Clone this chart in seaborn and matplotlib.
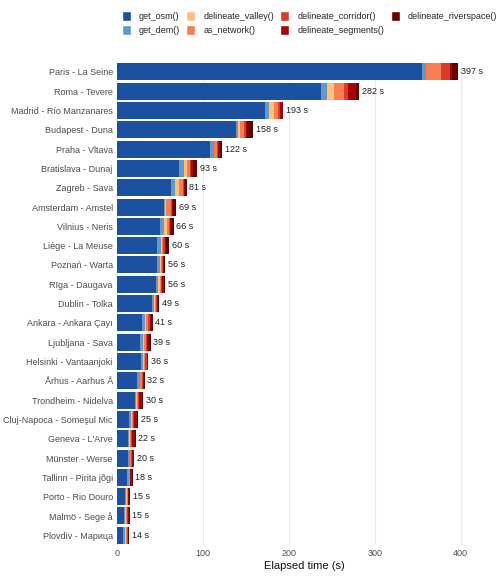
import numpy as np
import pandas as pd
import matplotlib
matplotlib.use("Agg")
import matplotlib.pyplot as plt
import seaborn as sns
from matplotlib.patches import Patch

cities = ["Paris - La Seine", "Roma - Tevere", "Madrid - Río Manzanares", "Budapest - Duna",
          "Praha - Vltava", "Bratislava - Dunaj", "Zagreb - Sava", "Amsterdam - Amstel",
          "Vilnius - Neris", "Liège - La Meuse", "Poznań - Warta", "Rīga - Daugava",
          "Dublin - Tolka", "Ankara - Ankara Çayı", "Ljubljana - Sava", "Helsinki - Vantaanjoki",
          "Århus - Aarhus Å", "Trondheim - Nidelva", "Cluj-Napoca - Someşul Mic", "Geneva - L'Arve",
          "Münster - Werse", "Tallinn - Pirita jõgi", "Porto - Rio Douro", "Malmö - Sege å",
          "Plovdiv - Марица"]
totals = [397, 282, 193, 158, 122, 93, 81, 69, 66, 60, 56, 56, 49, 41, 39, 36, 32, 30, 25, 22, 20, 18, 15, 15, 14]
get_osm = [354.5, 238, 172.6, 138.8, 108.5, 72.3, 63, 54.8, 50, 46.6, 46.6, 45.5, 41.2, 29.2, 26.8, 28, 23.3, 21, 14, 12.8, 12.8, 11.7, 9.3, 8.2, 7]
get_dem = [5, 7, 4.7, 2.3, 3.9, 5.8, 4.7, 1.5, 4.7, 4.7, 3.1, 2.3, 1.5, 3.5, 3.1, 2.3, 3.1, 1.2, 2.3, 1.2, 1.9, 1.9, 1.2, 1.2, 2.3]
delineate_valley = [0.5, 8, 5.8, 2.3, 0.4, 3.9, 4.7, 0.8, 3.5, 0.8, 1.2, 1.9, 1.2, 1.2, 1.9, 1.2, 0.8, 1.2, 1.2, 1.2, 0.8, 0.8, 1.2, 1.2, 1.2]
as_network = [17, 11.6, 4.7, 4.3, 3.5, 3.1, 4.7, 5.8, 2.3, 1.9, 1.5, 1.9, 1.5, 2.3, 1.5, 1.5, 1.9, 1.5, 1.5, 1.5, 1.2, 0.8, 0.8, 1.2, 1.2]
delineate_corridor = [10.5, 4.7, 2.3, 2.7, 1.5, 1.2, 1.5, 1.2, 1.5, 1.9, 1.2, 1.2, 0.8, 1.9, 1.2, 1.5, 1.2, 1.2, 1.2, 1.2, 0.8, 0.4, 0.8, 1.2, 0.8]
delineate_segments = [3, 9.3, 2.7, 1, 2.3, 2.3, 1.2, 1.5, 1.2, 1.2, 1.2, 1.9, 1.5, 1.9, 2.3, 1.2, 1.2, 3.1, 3.1, 3.1, 1.9, 1.9, 1.2, 1.2, 0.8]
delineate_riverspace = [7, 3.5, 0.8, 7, 2.3, 4.7, 1.2, 3.1, 2.7, 3.5, 1.2, 1.2, 1.2, 1.5, 2.3, 0.8, 0.8, 1.2, 1.2, 0.8, 0.8, 0.8, 0.8, 0.8, 0.8]

steps = ["get_osm()", "get_dem()", "delineate_valley()", "as_network()",
         "delineate_corridor()", "delineate_segments()", "delineate_riverspace()"]
series = [get_osm, get_dem, delineate_valley, as_network, delineate_corridor, delineate_segments, delineate_riverspace]
colors = ["#1B51A0", "#619AC9", "#FDC17C", "#F77E4E", "#DC3B2A", "#A50505", "#690000"]

cum = np.zeros(len(cities))
cums = []
for s in series:
    cum = cum + np.array(s)
    cums.append(cum.copy())

sns.set_theme(style="white")
plt.rcParams['font.family'] = ['Liberation Sans', 'DejaVu Sans']
fig = plt.figure(figsize=(5.04, 5.76), dpi=100)
ax = fig.add_axes([0.232, 0.054, 0.745, 0.838])
for c, col in zip(reversed(cums), reversed(colors)):
    sns.barplot(x=c, y=cities, orient="h", color=col, width=0.88, saturation=1, ax=ax, linewidth=0)
for i, t in enumerate(totals):
    ax.text(cums[-1][i] + 3, i, f"{t} s", va="center", ha="left", fontsize=6.5, color="#222222")
ax.set_xlim(0, 437)
ax.set_ylim(len(cities) - 0.5, -0.5)
ax.set_xticks([0, 100, 200, 300, 400])
ax.xaxis.grid(True, color="#EBEBEB", linewidth=0.8)
ax.set_axisbelow(True)
for sp in ax.spines.values():
    sp.set_visible(False)
ax.tick_params(axis="both", labelsize=6.5, colors="#4D4D4D", length=0, pad=3)
ax.set_xlabel("Elapsed time (s)", fontsize=8, color="#111111", labelpad=2)
ax.set_ylabel("")
handles = [Patch(facecolor=c, label=l) for c, l in zip(colors, steps)]
fig.legend(handles=handles, ncol=4, loc="upper left", bbox_to_anchor=(0.225, 0.995), frameon=False,
           fontsize=6.5, handlelength=1.0, handleheight=1.4, columnspacing=0.7, labelspacing=0.35, handletextpad=0.9)
fig.savefig("out.png", dpi=100)
